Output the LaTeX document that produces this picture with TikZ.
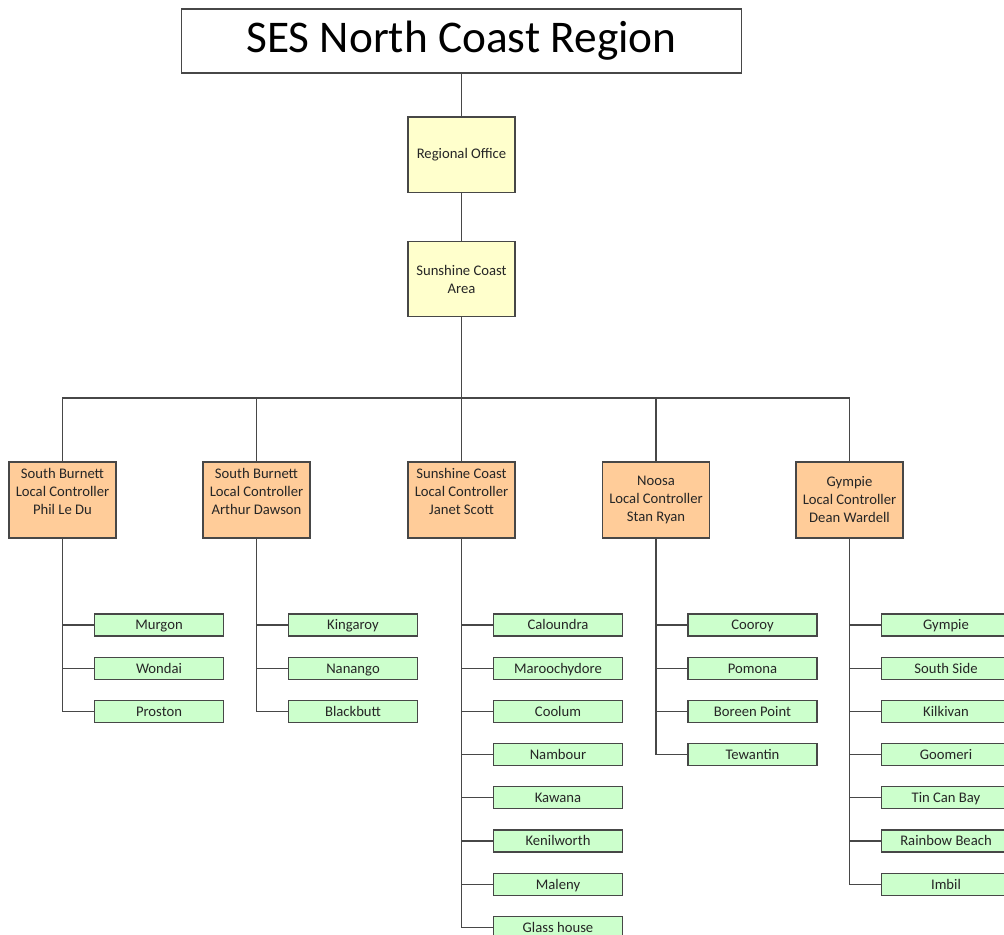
\documentclass[tikz,border=0pt]{standalone}
\usepackage{fontspec}
\setmainfont{Carlito}
\begin{document}
\begin{tikzpicture}[x=0.75pt,y=-0.75pt,
  every node/.style={text=black!85},
  box/.style={draw=black!72,line width=1pt,align=center,inner sep=0pt,
    font=\fontsize{11}{13.5}\selectfont},
  ybox/.style={box,fill=yellowfill,minimum width=80.25pt,minimum height=56.5pt},
  obox/.style={box,fill=orangefill,minimum width=80.25pt,minimum height=57pt},
  gbox/.style={box,fill=greenfill,minimum width=96.75pt,minimum height=16.5pt,
    text height=8.7pt,text depth=1.3pt},
  link/.style={draw=black!72,line width=1pt}]
\definecolor{yellowfill}{HTML}{FFFFCC}
\definecolor{orangefill}{HTML}{FFCC99}
\definecolor{greenfill}{HTML}{CCFFCC}
\useasboundingbox[fill=white] (0,0) rectangle (1004,935);

\node[box,fill=white,minimum width=420pt,minimum height=48pt,font=\fontsize{34}{40}\selectfont,text=black] (title) at (461.5,41) {SES North Coast Region};
\node[ybox] (reg) at (461.5,154.5) {Regional Office};
\node[ybox] (area) at (461.5,279) {Sunshine Coast\\Area};
\coordinate (bar) at (461.5,398);

\node[obox] (c1) at (62.5,500) {South Burnett\\Local Controller\\Phil Le Du\\\mbox{}};
\node[obox] (c2) at (256.5,500) {South Burnett\\Local Controller\\Arthur Dawson\\\mbox{}};
\node[obox] (c3) at (461.5,500) {Sunshine Coast\\Local Controller\\Janet Scott\\\mbox{}};
\node[obox] (c4) at (656,500) {Noosa\\Local Controller\\Stan Ryan};
\node[obox] (c5) at (849.5,500) {Gympie\\Local Controller\\Dean Wardell};

\draw[link] (title.south) -- (reg.north);
\draw[link] (reg.south) -- (area.north);
\draw[link] (area.south) -- (bar);
\foreach \c in {c1,c2,c3,c4,c5}{
  \draw[link] (\c.north) -- (\c.north |- bar) -- (bar);
}

\foreach \c/\lst in {
  c1/{Murgon,Wondai,Proston},
  c2/{Kingaroy,Nanango,Blackbutt},
  c3/{Caloundra,Maroochydore,Coolum,Nambour,Kawana,Kenilworth,Maleny,Glass house},
  c4/{Cooroy,Pomona,Boreen Point,Tewantin},
  c5/{Gympie,South Side,Kilkivan,Goomeri,Tin Can Bay,Rainbow Beach,Imbil}}{
  \foreach \t [count=\i from 0] in \lst {
    \path (\c.south) ++(96.5,0) coordinate (tmp);
    \node[gbox] (\c-\i) at (tmp |- 0,{625+43.2*\i}) {\t};
    \draw[link] (\c.south) |- (\c-\i.west);
  }
}
\end{tikzpicture}
\end{document}
